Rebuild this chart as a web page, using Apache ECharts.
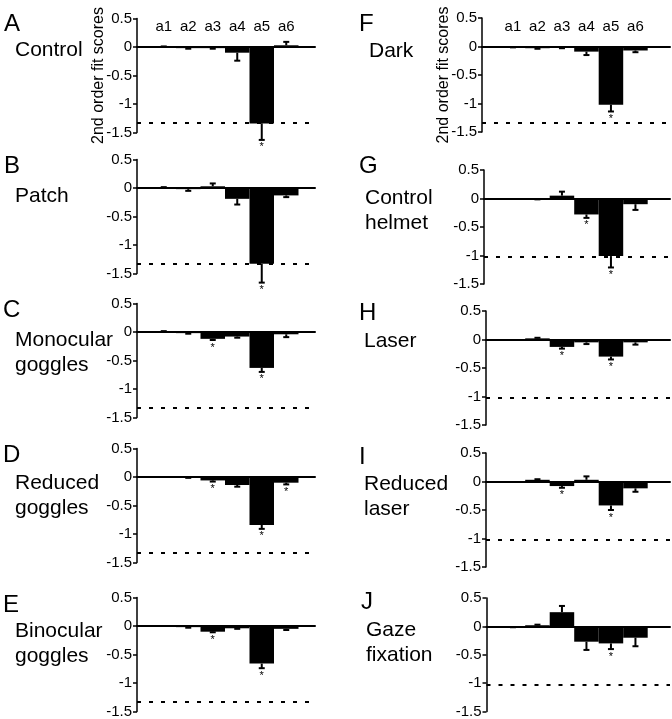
<!DOCTYPE html>
<html><head><meta charset="utf-8">
<script src="https://cdn.jsdelivr.net/npm/echarts@6/dist/echarts.min.js"></script>
<style>html,body{margin:0;padding:0;background:#fff}#c{width:672px;height:719px}</style>
</head><body><div id="c"></div>
<script>
// ---------------- data ----------------
const categories = ['a1', 'a2', 'a3', 'a4', 'a5', 'a6'];
const yMin = -1.5, yMax = 0.5, yStep = 0.5;
const axisTitle = '2nd order fit scores';
const panelLetters = ['A', 'B', 'C', 'D', 'E', 'F', 'G', 'H', 'I', 'J'];
const panelNames = ['Control', 'Patch', 'Monocular\ngoggles', 'Reduced\ngoggles', 'Binocular\ngoggles',
                    'Dark', 'Control\nhelmet', 'Laser', 'Reduced\nlaser', 'Gaze\nfixation'];

const valA = [0.005, -0.02, -0.02, -0.10, -1.34, 0.03];
const errA = [0.005, 0.01, 0.01, 0.14, 0.29, 0.06];
const sigA = [0, 0, 0, 0, 1, 0];
const valB = [0.01, -0.02, 0.03, -0.19, -1.33, -0.13];
const errB = [0.005, 0.03, 0.05, 0.10, 0.33, 0.03];
const sigB = [0, 0, 0, 0, 1, 0];
const valC = [0.01, -0.02, -0.12, -0.08, -0.63, -0.04];
const errC = [0.005, 0.01, 0.02, 0.02, 0.07, 0.05];
const sigC = [0, 0, 1, 0, 1, 0];
const valD = [0.0, -0.01, -0.06, -0.14, -0.84, -0.10];
const errD = [0, 0.005, 0.02, 0.03, 0.07, 0.03];
const sigD = [0, 0, 1, 0, 1, 1];
const valE = [0.0, -0.02, -0.10, -0.04, -0.66, -0.05];
const errE = [0, 0.01, 0.01, 0.01, 0.08, 0.02];
const sigE = [0, 0, 1, 0, 1, 0];
const valF = [-0.01, -0.03, -0.02, -0.09, -1.02, -0.07];
const errF = [0.005, 0.01, 0.01, 0.06, 0.12, 0.03];
const sigF = [0, 0, 0, 0, 1, 0];
const valG = [0.0, -0.01, 0.05, -0.28, -1.01, -0.10];
const errG = [0, 0.005, 0.07, 0.06, 0.20, 0.10];
const sigG = [0, 0, 0, 1, 1, 0];
const valH = [0.0, 0.02, -0.13, -0.05, -0.30, -0.05];
const errH = [0, 0.01, 0.03, 0.03, 0.05, 0.04];
const sigH = [0, 0, 1, 0, 1, 0];
const valI = [0.0, 0.03, -0.08, 0.03, -0.42, -0.12];
const errI = [0, 0.01, 0.03, 0.06, 0.08, 0.06];
const sigI = [0, 0, 1, 0, 1, 0];
const valJ = [-0.01, 0.02, 0.25, -0.27, -0.30, -0.20];
const errJ = [0.005, 0.01, 0.11, 0.145, 0.10, 0.15];
const sigJ = [0, 0, 0, 0, 1, 0];

const thresholds = [-1.33, -1.33, -1.33, -1.33, -1.33, -1.33, -1.02, -1.02, -1.02, -1.02];

const panelValues = [valA, valB, valC, valD, valE, valF, valG, valH, valI, valJ];
const panelErrors = [errA, errB, errC, errD, errE, errF, errG, errH, errI, errJ];
const panelSig = [sigA, sigB, sigC, sigD, sigE, sigF, sigG, sigH, sigI, sigJ];

// ---------------- layout ----------------
const FONT = '"Liberation Sans", Arial, Helvetica, sans-serif';
const BW = 24.5; // bar width px
const H = 114;
const layout = [
  {ax: 137, bs: 151.5, re: 315, top: 18.5, lx: 4, ly: 24, nx: 15, ny: 50},
  {ax: 137, bs: 151.5, re: 315, top: 159.5, lx: 4, ly: 166, nx: 15, ny: 196},
  {ax: 137, bs: 151.5, re: 315, top: 303.5, lx: 3, ly: 310, nx: 15, ny: 352.5},
  {ax: 137, bs: 151.5, re: 315, top: 448.5, lx: 3, ly: 455, nx: 15, ny: 495.5},
  {ax: 137, bs: 151.5, re: 315, top: 597.5, lx: 3, ly: 605, nx: 15, ny: 644},
  {ax: 482, bs: 500.7, re: 670, top: 18, lx: 359, ly: 24, nx: 369, ny: 51},
  {ax: 484, bs: 500.7, re: 670, top: 170, lx: 359, ly: 166, nx: 365, ny: 210.5},
  {ax: 486, bs: 500.7, re: 670, top: 311, lx: 359, ly: 313, nx: 364, ny: 341},
  {ax: 486, bs: 500.7, re: 670, top: 453, lx: 359, ly: 457, nx: 364, ny: 496.5},
  {ax: 486.5, bs: 500.7, re: 670, top: 598, lx: 361, ly: 602, nx: 366, ny: 642.5}
];

const grids = [], xAxes = [], yAxes = [], series = [], graphics = [];

function errRender(params, api) {
  const x = api.value(0), v = api.value(1), e = api.value(2), s = api.value(3);
  const dir = v < 0 ? -1 : 1;
  const p0 = api.coord([x, v]);
  const p1 = api.coord([x, v + dir * e]);
  const children = [];
  if (e > 0) {
    children.push({type: 'line', shape: {x1: p0[0], y1: p0[1], x2: p1[0], y2: p1[1]},
      style: {stroke: '#000', lineWidth: 2}});
    children.push({type: 'line', shape: {x1: p1[0] - 3, y1: p1[1], x2: p1[0] + 3, y2: p1[1]},
      style: {stroke: '#000', lineWidth: 2}});
  }
  if (s) {
    children.push({type: 'text', x: p1[0], y: p1[1] + (dir < 0 ? 2 : -2),
      style: {text: '*', font: '11px ' + FONT, fill: '#000', align: 'center',
        verticalAlign: dir < 0 ? 'top' : 'bottom'}});
  }
  return {type: 'group', children: children};
}

layout.forEach((L, p) => {
  const width = L.re - L.ax;
  const xmin = 1 - (L.bs - L.ax + BW / 2) / BW;
  const xmax = xmin + width / BW;
  grids.push({left: L.ax, top: L.top, width: width, height: H, containLabel: false});
  xAxes.push({
    gridIndex: p, type: 'value', min: xmin, max: xmax,
    axisLine: {show: true, onZero: true, lineStyle: {color: '#000', width: 2}},
    axisTick: {show: false}, axisLabel: {show: false}, splitLine: {show: false}
  });
  const showTitle = (p === 0 || p === 5);
  if (showTitle) {
    xAxes.push({
      gridIndex: p, type: 'value', position: 'top', min: xmin, max: xmax,
      axisLine: {show: false, onZero: false}, axisTick: {show: false}, splitLine: {show: false},
      axisLabel: {show: true, inside: true, margin: 1, customValues: categories.map((c, i) => i + 1),
        formatter: v => categories[Math.round(v) - 1] || '',
        color: '#000', fontSize: 15, fontFamily: FONT}
    });
  }
  yAxes.push({
    gridIndex: p, type: 'value', min: yMin, max: yMax, interval: yStep,
    axisLine: {show: true, onZero: false, lineStyle: {color: '#000', width: 1.5}},
    axisTick: {show: true, length: 4, lineStyle: {color: '#000', width: 1.5}},
    axisLabel: {color: '#000', fontSize: 15, fontFamily: FONT, margin: 5},
    splitLine: {show: false},
    name: showTitle ? axisTitle : '', nameLocation: 'middle', nameRotate: 90, nameGap: 30,
    nameMoveOverlap: false,
    nameTextStyle: {color: '#000', fontSize: 16, fontFamily: FONT}
  });
  const xIdx = xAxes.length - (showTitle ? 2 : 1);
  const vals = panelValues[p], errs = panelErrors[p], sig = panelSig[p];
  series.push({
    type: 'bar', xAxisIndex: xIdx, yAxisIndex: p, barWidth: BW,
    data: categories.map((c, i) => [i + 1, vals[i]]),
    itemStyle: {color: '#000'}, silent: true, z: 3,
    markLine: {silent: true, symbol: 'none', label: {show: false}, z: 2,
      lineStyle: {color: '#000', width: 2, type: [4, 8]},
      data: [{yAxis: thresholds[p]}]}
  });
  series.push({
    type: 'custom', xAxisIndex: xIdx, yAxisIndex: p, renderItem: errRender, z: 4, silent: true,
    data: categories.map((c, i) => [i + 1, vals[i], errs[i], sig[i]])
  });
  graphics.push({type: 'text', x: L.lx, y: L.ly,
    style: {text: panelLetters[p], font: '24px ' + FONT, fill: '#000', verticalAlign: 'middle'}});
  graphics.push({type: 'text', x: L.nx, y: L.ny,
    style: {text: panelNames[p], font: '21px ' + FONT, fill: '#000', verticalAlign: 'middle', lineHeight: 25}});
});

const chart = echarts.init(document.getElementById('c'), null, {renderer: 'canvas'});
chart.setOption({
  animation: false,
  backgroundColor: '#fff',
  grid: grids, xAxis: xAxes, yAxis: yAxes, series: series, graphic: graphics
});
</script></body></html>
